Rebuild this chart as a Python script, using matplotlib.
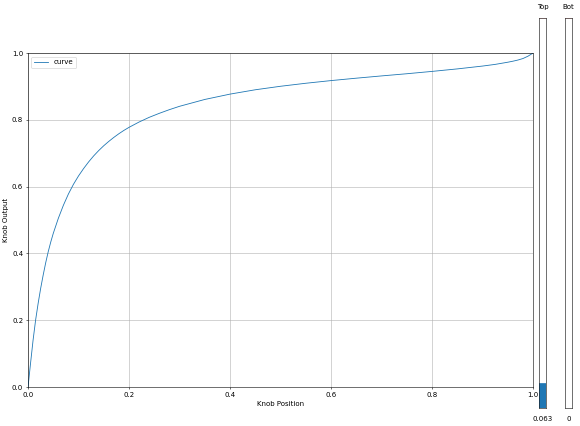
import matplotlib
matplotlib.use("Agg")
import matplotlib.pyplot as plt

# knob curve
knob_pos = [0.0, 0.005, 0.01, 0.015, 0.02, 0.025, 0.03, 0.035, 0.04, 0.045, 0.05, 0.06,
            0.07, 0.08, 0.09, 0.1, 0.11, 0.12, 0.13, 0.14, 0.15, 0.16, 0.17, 0.18, 0.19,
            0.2, 0.22, 0.24, 0.26, 0.28, 0.3, 0.35, 0.4, 0.45, 0.5, 0.55, 0.6, 0.65, 0.7,
            0.75, 0.8, 0.85, 0.9, 0.925, 0.95, 0.96, 0.97, 0.98, 0.99, 1.0]
knob_out = [0.0, 0.071, 0.14, 0.2, 0.25, 0.295, 0.335, 0.372, 0.405, 0.434, 0.46, 0.505,
            0.544, 0.578, 0.607, 0.632, 0.654, 0.674, 0.692, 0.708, 0.7225, 0.7355,
            0.7475, 0.7585, 0.7685, 0.7775, 0.7935, 0.8075, 0.8195, 0.8305, 0.8405, 0.861,
            0.877, 0.89, 0.9005, 0.9095, 0.9175, 0.9247, 0.9315, 0.938, 0.945, 0.9525,
            0.961, 0.966, 0.9725, 0.9755, 0.979, 0.9835, 0.9905, 1.0]

slider_names = ["Top", "Bot"]
slider_vals = [0.063, 0.0]
slider_texts = ["0.063", "0"]
slider_init = 1.0

fig = plt.figure(figsize=(11.6, 8.52), dpi=50)

ax = fig.add_axes([0.0483, 0.0915, 0.8707, 0.784])
ax.plot(knob_pos, knob_out, label="curve", lw=1.2)
ax.set_xlim(0, 1)
ax.set_ylim(0, 1)
ax.set_xlabel("Knob Position")
ax.set_ylabel("Knob Output")
ax.grid(True)
ax.legend(loc="upper left")

# simple vertical sliders, drawn like the old widget
lefts = [539 / 580, 565 / 580]
for left, name, val, txt in zip(lefts, slider_names, slider_vals, slider_texts):
    sax = fig.add_axes([left, 18 / 426, 7 / 580, 390 / 426])
    sax.set_xticks([])
    sax.set_yticks([])
    sax.set_ylim(0, 1)
    sax.set_xlim(0, 1)
    if val > 0:
        sax.axhspan(0, val, 0, 1, color="#1f77b4")
    sax.axhline(slider_init, 0, 1, color="r", lw=0.6, alpha=0.6)
    sax.text(0.5, 1.02, name, transform=sax.transAxes, ha="center", va="bottom")
    sax.text(0.5, -0.02, txt, transform=sax.transAxes, ha="center", va="top")

fig.savefig("out.png", dpi=50)
